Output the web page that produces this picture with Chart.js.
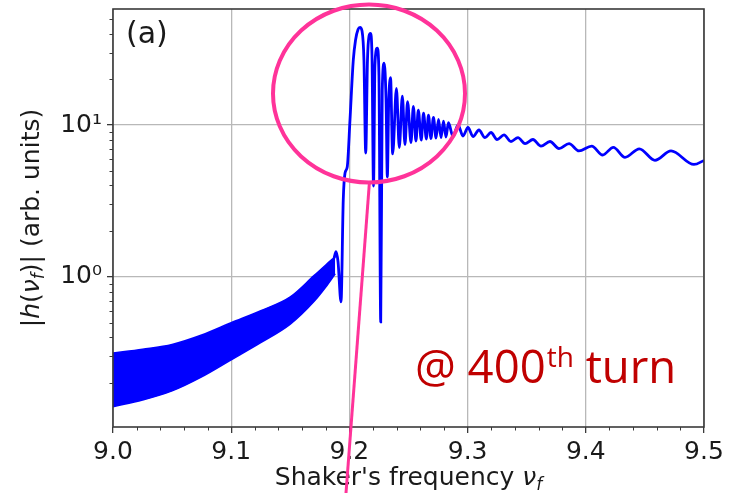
<!DOCTYPE html>
<html><head><meta charset="utf-8">
<script src="https://cdn.jsdelivr.net/npm/chart.js@4.4.1/dist/chart.umd.min.js"></script>
<style>html,body{margin:0;padding:0;background:#fff;} #wrap{width:736px;height:495px;}</style>
</head><body><div id="wrap"><canvas id="c" width="736" height="495"></canvas></div>
<script>
// dense oscillating band below resonance (envelope)
const bandFreq  = [9.000, 9.025, 9.050, 9.075, 9.100, 9.125, 9.150, 9.170, 9.180, 9.188];
const bandUpper = [0.316, 0.335, 0.360, 0.415, 0.50, 0.60, 0.74, 1.02, 1.20, 1.36];
const bandLower = [0.140, 0.155, 0.178, 0.220, 0.285, 0.37, 0.49, 0.69, 0.86, 1.05];

// resonance curve
const freq = [9.1870, 9.1887, 9.1904, 9.1929, 9.1948, 9.1963, 9.1982, 9.2005, 9.2033, 9.2052,
  9.2073, 9.2090, 9.2107, 9.2123, 9.2138, 9.2153, 9.2166, 9.2178, 9.2191, 9.2204,
  9.2216, 9.2236, 9.2250, 9.2265, 9.2278, 9.2294, 9.2310, 9.2321, 9.2332, 9.2348,
  9.2366, 9.2398, 9.2422, 9.2448, 9.2470, 9.2492, 9.2521, 9.2541, 9.2563, 9.2583,
  9.2608, 9.2627, 9.2651, 9.2669, 9.2690, 9.2711, 9.2733, 9.2754, 9.2775, 9.2796,
  9.2817, 9.2838, 9.2876, 9.2919, 9.2961, 9.3003, 9.3046, 9.3096, 9.3147, 9.3198,
  9.3249, 9.3308, 9.3367, 9.3426, 9.3486, 9.3553, 9.3621, 9.3697, 9.3773, 9.3858,
  9.3942, 9.4050, 9.4143, 9.4233, 9.4332, 9.4453, 9.4585, 9.4721, 9.4915, 9.5000];
const amp = [1.33, 1.467, 1.255, 0.685, 3.21, 4.83, 5.32, 10.8, 26.8, 36.3,
  42.5, 43.9, 41.5, 26.8, 6.54, 26.8, 38.5, 40.1, 28.9, 3.97,
  24.8, 32.0, 21.3, 0.506, 17.0, 25.5, 14.6, 4.55, 13.5, 20.5,
  6.45, 17.4, 7.11, 15.5, 7.44, 14.23, 7.67, 13.27, 7.85, 12.55,
  7.97, 11.99, 8.09, 11.63, 8.15, 11.23, 8.21, 10.90, 8.27, 10.62,
  8.34, 10.35, 8.40, 10.0, 8.47, 9.63, 8.40, 9.27, 8.27, 8.93,
  8.03, 8.60, 7.79, 8.27, 7.55, 8.03, 7.27, 7.79, 7.00, 7.55,
  6.75, 7.27, 6.35, 7.13, 6.13, 6.97, 5.86, 6.75, 5.50, 5.84];

// ticks
const xTicks = [9.00,9.02,9.04,9.06,9.08,9.10,9.12,9.14,9.16,9.18,9.20,9.22,9.24,9.26,9.28,
  9.30,9.32,9.34,9.36,9.38,9.40,9.42,9.44,9.46,9.48,9.50];
const xMajor = [9.0, 9.1, 9.2, 9.3, 9.4, 9.5];
const xMajorLabels = ['9.0','9.1','9.2','9.3','9.4','9.5'];
const yTicks = [0.2,0.3,0.4,0.5,0.6,0.7,0.8,0.9,1,2,3,4,5,6,7,8,9,10,20,30,40,50];
const yMajor = [1, 10];
const yMajorLabels = ['10\u2070', '10\u00B9'];

const near = (a,b) => Math.abs(a-b) < 1e-6 * Math.max(1, Math.abs(b));
const majIdx = (arr, v) => arr.findIndex(m => near(v, m));
const FRAME = '#3a3a3a';
const TXT = '#1a1a1a';

function richText(ctx, parts, cx, by) {
  let w = 0;
  parts.forEach(p => { ctx.font = p.font; p.w = ctx.measureText(p.t).width; w += p.w; });
  let x = cx - w / 2;
  parts.forEach(p => { ctx.font = p.font; ctx.fillText(p.t, x, by + (p.dy || 0)); x += p.w; });
}

const overlay = {
  id: 'overlay',
  afterDatasetsDraw(chart) {
    const ctx = chart.ctx, a = chart.chartArea;
    ctx.save();
    ctx.strokeStyle = FRAME; ctx.lineWidth = 1;
    const xs = chart.scales.x, ys = chart.scales.y;
    xTicks.forEach(v => { if (majIdx(xMajor, v) < 0) { const px = Math.round(xs.getPixelForValue(v)) + 0.5;
      ctx.beginPath(); ctx.moveTo(px, a.bottom); ctx.lineTo(px, a.bottom + 3.5); ctx.stroke(); } });
    yTicks.forEach(v => { if (majIdx(yMajor, v) < 0) { const py = Math.round(ys.getPixelForValue(v)) + 0.5;
      ctx.beginPath(); ctx.moveTo(a.left, py); ctx.lineTo(a.left - 3.5, py); ctx.stroke(); } });
    ctx.strokeStyle = FRAME; ctx.lineWidth = 1.6;
    ctx.strokeRect(a.left, a.top, a.right - a.left, a.bottom - a.top);
    ctx.restore();
  },
  afterDraw(chart) {
    const ctx = chart.ctx, a = chart.chartArea;
    ctx.save();
    ctx.fillStyle = TXT;
    ctx.textBaseline = 'alphabetic';
    const N = '25px "DejaVu Sans"', I = 'italic 25px "DejaVu Sans"', S = 'italic 17px "DejaVu Sans"';
    richText(ctx, [{t:"Shaker's frequency ", font:N}, {t:'\u03BD', font:I}, {t:'f', font:S, dy:5}],
      (a.left + a.right) / 2, 485);
    ctx.save();
    ctx.translate(38.5, (a.top + a.bottom) / 2);
    ctx.rotate(-Math.PI / 2);
    richText(ctx, [{t:'|', font:N}, {t:'h', font:I}, {t:'(', font:N}, {t:'\u03BD', font:I},
      {t:'f', font:S, dy:5}, {t:')| (arb. units)', font:N}], 0, 0);
    ctx.restore();
    ctx.font = '30px "DejaVu Sans"';
    ctx.fillText('(a)', 126, 43);
    ctx.strokeStyle = '#ff3399';
    ctx.lineWidth = 4;
    ctx.beginPath();
    ctx.ellipse(369, 93.5, 96, 89, 0, 0, Math.PI * 2);
    ctx.stroke();
    ctx.lineWidth = 3;
    ctx.beginPath();
    ctx.moveTo(369.3, 184); ctx.lineTo(346, 493);
    ctx.stroke();
    ctx.fillStyle = '#c00000';
    const F = 45.5;
    let x = 415;
    ctx.font = F + 'px "Open Sans"';
    ctx.fillText('@ 400', x, 383); x += ctx.measureText('@ 400').width + 1;
    ctx.font = Math.round(F * 0.62) + 'px "Open Sans"';
    ctx.fillText('th', x, 383 - F * 0.36); x += ctx.measureText('th').width;
    ctx.font = F + 'px "Open Sans"';
    ctx.fillText(' turn', x, 383);
    ctx.restore();
  }
};

new Chart(document.getElementById('c'), {
  type: 'line',
  data: { datasets: [
    { data: bandFreq.map((x, i) => ({x, y: bandUpper[i]})), borderColor: '#0000ff', backgroundColor: '#0000ff',
      borderWidth: 1.5, pointRadius: 0, fill: '+1', cubicInterpolationMode: 'monotone' },
    { data: bandFreq.map((x, i) => ({x, y: bandLower[i]})), borderColor: '#0000ff',
      borderWidth: 1.5, pointRadius: 0, fill: false, cubicInterpolationMode: 'monotone' },
    { data: freq.map((x, i) => ({x, y: amp[i]})), borderColor: '#0000ff', borderWidth: 2.8,
      pointRadius: 0, fill: false, cubicInterpolationMode: 'monotone' }
  ]},
  options: {
    responsive: false, animation: false, devicePixelRatio: 1,
    layout: { padding: { left: 0, right: 32, top: 9, bottom: 0 } },
    plugins: { legend: { display: false }, tooltip: { enabled: false } },
    scales: {
      x: {
        type: 'linear', min: 9.0, max: 9.5,
        afterBuildTicks: s => { s.ticks = xTicks.map(v => ({value: v})); },
        afterFit: s => { s.height = 68; s.paddingLeft = 0; s.paddingRight = 0; },
        ticks: { autoSkip: false, maxRotation: 0, minRotation: 0, padding: 4, color: TXT,
          font: { family: 'DejaVu Sans', size: 25 },
          callback: v => { const i = majIdx(xMajor, v); return i >= 0 ? xMajorLabels[i] : ''; } },
        grid: { color: c => majIdx(xMajor, c.tick.value) >= 0 ? '#b8b8b8' : 'rgba(0,0,0,0)',
          tickColor: c => majIdx(xMajor, c.tick.value) >= 0 ? FRAME : 'rgba(0,0,0,0)',
          lineWidth: 1.3, tickLength: 6 },
        border: { display: false }
      },
      y: {
        type: 'logarithmic', min: 0.103, max: 58,
        afterBuildTicks: s => { s.ticks = yTicks.map(v => ({value: v})); },
        afterFit: s => { s.width = 113; s.paddingTop = 0; s.paddingBottom = 0; },
        ticks: { autoSkip: false, padding: 5, color: TXT, font: { family: 'DejaVu Sans', size: 25 },
          callback: v => { const i = majIdx(yMajor, v); return i >= 0 ? yMajorLabels[i] : ''; } },
        grid: { color: c => majIdx(yMajor, c.tick.value) >= 0 ? '#b8b8b8' : 'rgba(0,0,0,0)',
          tickColor: c => majIdx(yMajor, c.tick.value) >= 0 ? FRAME : 'rgba(0,0,0,0)',
          lineWidth: 1.3, tickLength: 6 },
        border: { display: false }
      }
    }
  },
  plugins: [overlay]
});
</script></body></html>
